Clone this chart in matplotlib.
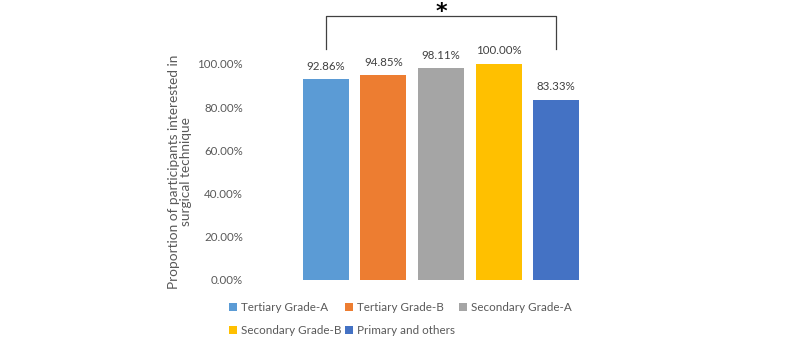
import matplotlib
matplotlib.use("Agg")
import matplotlib.pyplot as plt
from matplotlib.patches import Patch

categories = ["Tertiary Grade-A", "Tertiary Grade-B", "Secondary Grade-A",
              "Secondary Grade-B", "Primary and others"]
values = [0.9286, 0.9485, 0.9811, 1.0000, 0.8333]
value_labels = ["92.86%", "94.85%", "98.11%", "100.00%", "83.33%"]
yticks = [0.0, 0.2, 0.4, 0.6, 0.8, 1.0]
ytick_labels = ["0.00%", "20.00%", "40.00%", "60.00%", "80.00%", "100.00%"]
colors = ["#5B9BD5", "#ED7D31", "#A5A5A5", "#FFC000", "#4472C4"]

plt.rcParams['font.family'] = ['Lato', 'DejaVu Sans']

W, H = 800, 341
fig = plt.figure(figsize=(W / 100, H / 100), dpi=100)
left, right = 297, 585
bottom, top = 280, 64
ax = fig.add_axes([left / W, 1 - bottom / H, (right - left) / W, (bottom - top) / H])

for i, (c, v, col) in enumerate(zip(categories, values, colors)):
    ax.bar(i, v, width=0.8, color=col, label=c)
    ax.text(i, v + 0.035, value_labels[i], ha='center', va='bottom',
            fontsize=8.3, color='#404040')

ax.set_xlim(-0.5, len(categories) - 0.5)
ax.set_ylim(0, 1.0)
ax.set_yticks(yticks)
ax.set_yticklabels(ytick_labels, fontsize=8.3, color='#595959')
ax.tick_params(axis='y', length=0, pad=39)
ax.set_xticks([])
for s in ax.spines.values():
    s.set_visible(False)

ax.set_ylabel("Proportion of participants interested in\nsurgical technique",
              fontsize=9.8, color='#595959', labelpad=4, linespacing=1.0)

# significance bracket between first and last bars
y_leg = 1.07
y_top = 1.22
ax.plot([0, 0, len(categories) - 1, len(categories) - 1],
        [y_leg, y_top, y_top, y_leg], color='#404040', lw=0.9, clip_on=False)
ax.text((len(categories) - 1) / 2, 1.285, "*", ha='center', va='top',
        fontsize=16, fontweight='bold', color='black', clip_on=False,
        family='DejaVu Sans')

handles = [Patch(facecolor=col) for col in colors]
order = [0, 3, 1, 4, 2]
leg = fig.legend([handles[i] for i in order], [categories[i] for i in order],
                 ncol=3, loc='upper left', bbox_to_anchor=(229 / W, 1 - 302 / H),
                 frameon=False, fontsize=8.4, handlelength=0.7, handleheight=0.7,
                 handletextpad=0.3, columnspacing=0.35, labelspacing=1.05,
                 borderaxespad=0, borderpad=0)
for t in leg.get_texts():
    t.set_color('#595959')

fig.savefig("out.png", dpi=100)
